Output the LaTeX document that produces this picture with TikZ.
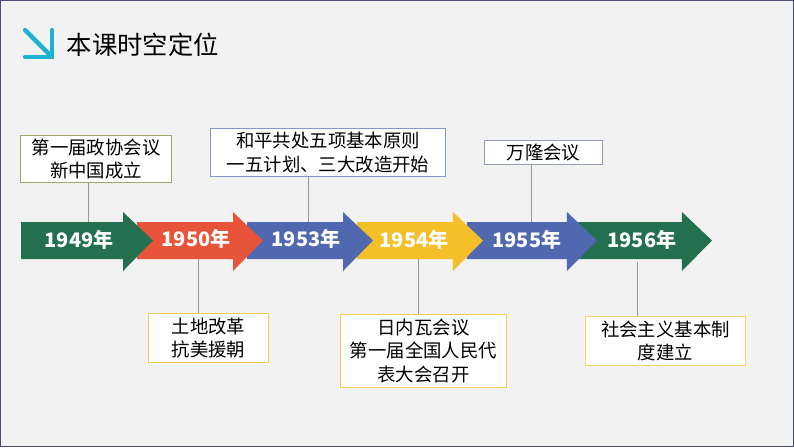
\documentclass[tikz,border=0pt]{standalone}
\usepackage{fontspec}
\setmainfont{Noto Sans CJK SC}
\usetikzlibrary{arrows.meta}
\definecolor{bg}{HTML}{F2F2F2}
\definecolor{cgreen}{HTML}{23704F}
\definecolor{cred}{HTML}{E8543A}
\definecolor{cblue}{HTML}{5068B0}
\definecolor{cyel}{HTML}{F5BF2A}
\definecolor{ccyan}{HTML}{1DB2CF}
\tikzset{
  box/.style={draw=#1, fill=white, line width=0.8pt, inner sep=0pt, align=center, font=\fontsize{13.8}{17.5}\selectfont, anchor=north west},
  yr/.style={text=white, font=\bfseries\fontsize{15}{17}\selectfont},
  lk/.style={draw=gray!80, line width=0.5pt}
}
\newcommand{\tlarrow}[3]{% start, tip, color
  \fill[#3] (#1,222) -- (#2-30,222) -- (#2-30,212) -- (#2,240.5) -- (#2-30,271) -- (#2-30,259) -- (#1,259) -- cycle;
}
\begin{document}
\begin{tikzpicture}[x=0.75pt,y=-0.75pt]
\fill[bg] (0,0) rectangle (794,447);
\draw[color=black!60!blue!40!gray, line width=0.8pt] (0.5,0.5) rectangle (793.5,446.5);
% title
\draw[ccyan, line width=3.2pt, line cap=round] (25,30) -- (51,56);
\draw[ccyan, line width=3.2pt, line cap=round] (25,57) -- (52,57) -- (52,30);
\node[anchor=west, font=\fontsize{19}{22}\selectfont] (title) at (62,45) {本课时空定位};
% arrows drawn right to left
\tlarrow{577}{712}{cgreen}
\tlarrow{467}{597}{cblue}
\tlarrow{357}{483}{cyel}
\tlarrow{247}{373}{cblue}
\tlarrow{137}{263}{cred}
\tlarrow{21}{153}{cgreen}
\node[yr] (y49) at (79,240) {1949年};
\node[yr] (y50) at (196,239) {1950年};
\node[yr] (y53) at (306,239) {1953年};
\node[yr] (y54) at (414,240) {1954年};
\node[yr] (y55) at (527,240) {1955年};
\node[yr] (y56) at (642,240) {1956年};
\coordinate (t49) at (88,222);
\coordinate (t53) at (308,222);
\coordinate (t55) at (531,222);
\coordinate (b50) at (198,259);
\coordinate (b54) at (418,259);
\coordinate (b56) at (637,262);
% boxes
\node[box=olive!40!gray!80, minimum width=151*0.75pt, minimum height=47*0.75pt] (e1) at (20,135) {第一届政协会议\\新中国成立};
\node[box=cblue!70, minimum width=235*0.75pt, minimum height=48*0.75pt] (e2) at (210,128) {和平共处五项基本原则\\一五计划、三大改造开始};
\node[box=cblue!60!gray!70, minimum width=118*0.75pt, minimum height=24*0.75pt] (e3) at (484,140) {万隆会议};
\node[box=cyel!80, minimum width=120*0.75pt, minimum height=49*0.75pt] (e4) at (148,313) {土地改革\\抗美援朝};
\node[box=cyel!80, minimum width=166*0.75pt, minimum height=73*0.75pt] (e5) at (340,314) {日内瓦会议\\第一届全国人民代\\表大会召开};
\node[box=cyel!70, minimum width=160*0.75pt, minimum height=49*0.75pt] (e6) at (585,316) {社会主义基本制\\度建立};
\draw[lk] (e1.south -| t49) -- (t49);
\draw[lk] (e2.south -| t53) -- (t53);
\draw[lk] (e3.south -| t55) -- (t55);
\draw[lk] (e4.north -| b50) -- (b50);
\draw[lk] (e5.north -| b54) -- (b54);
\draw[lk] (e6.north -| b56) -- (b56);
\end{tikzpicture}
\end{document}
